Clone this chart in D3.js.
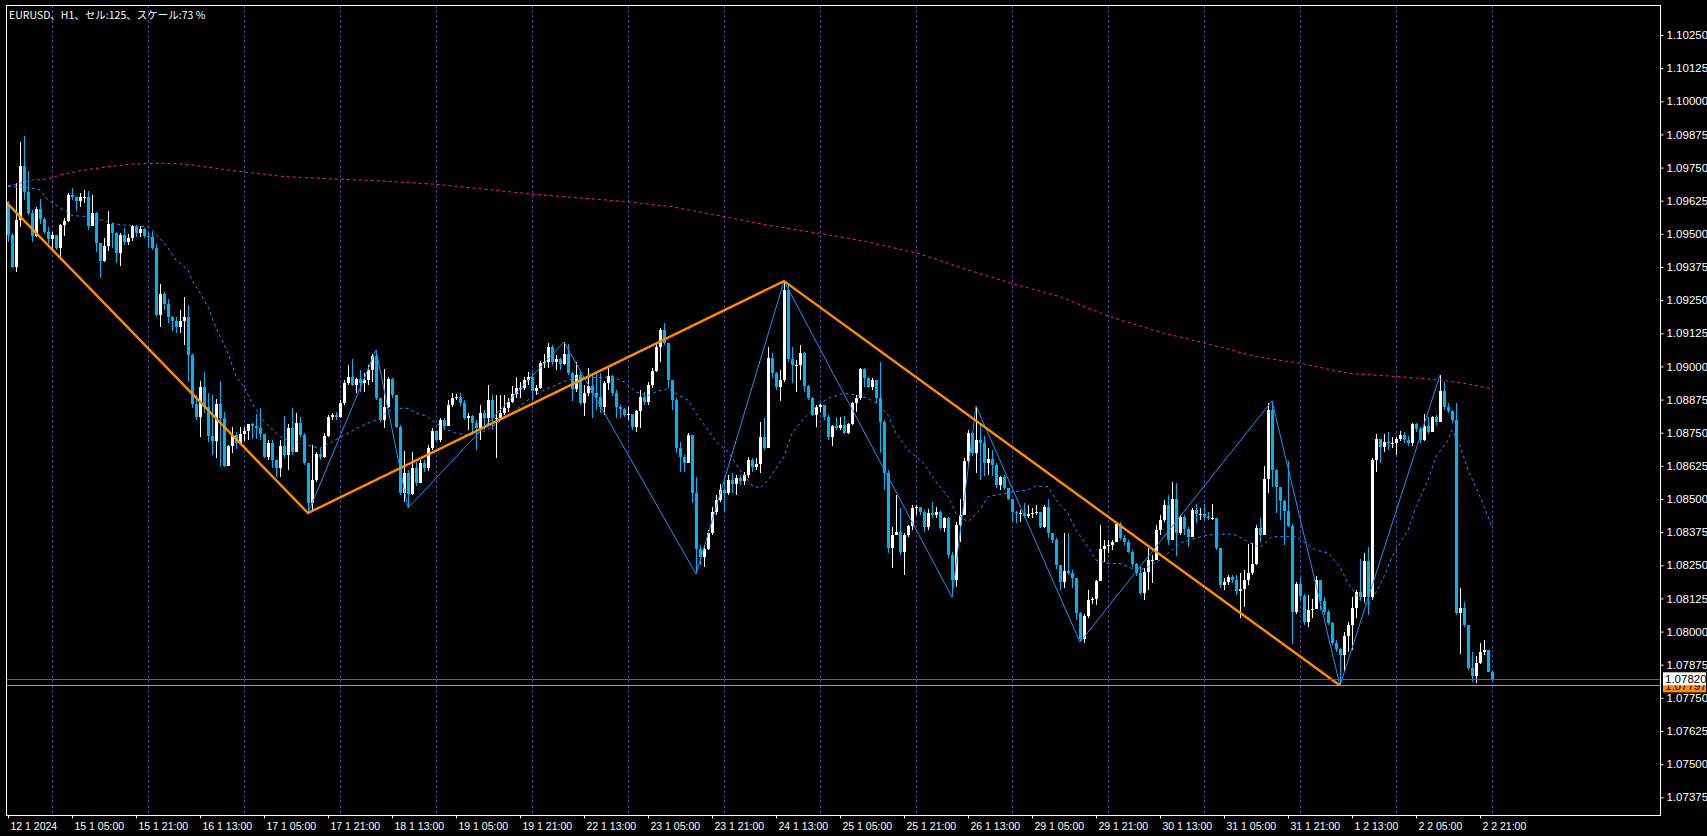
<!DOCTYPE html>
<html lang="ja">
  <head>
    <meta charset="UTF-8" />
    <title>EURUSD H1</title>
    <script src="https://d3js.org/d3.v7.min.js"></script>
    <style>
      html, body { margin: 0; padding: 0; background: #000; overflow: hidden; }
      svg { display: block; }
    </style>
  </head>
  <body>
    <svg id="chart" width="1707" height="836"></svg>

    <script>
    // ---- data (EURUSD H1, 12 Jan - 2 Feb 2024) ----
    const firstOpen = 1.09609;

    const barClose = [
      1.09495, 1.09375, 1.09552, 1.09755, 1.09657, 1.09579, 1.09491, 1.09594, 1.09556, 1.09506,
      1.09480, 1.09495, 1.09447, 1.09533, 1.09548, 1.09646, 1.09639, 1.09624, 1.09639, 1.09639,
      1.09529, 1.09579, 1.09466, 1.09397, 1.09454, 1.09537, 1.09503, 1.09428, 1.09495, 1.09469,
      1.09484, 1.09529, 1.09503, 1.09518, 1.09491, 1.09488, 1.09447, 1.09194, 1.09273, 1.09235,
      1.09187, 1.09171, 1.09149, 1.09171, 1.09187, 1.09043, 1.08858, 1.08809, 1.08923, 1.08847,
      1.08737, 1.08718, 1.08858, 1.08805, 1.08624, 1.08699, 1.08741, 1.08711, 1.08745, 1.08756,
      1.08783, 1.08775, 1.08768, 1.08745, 1.08658, 1.08711, 1.08647, 1.08617, 1.08699, 1.08666,
      1.08768, 1.08677, 1.08786, 1.08741, 1.08636, 1.08485, 1.08571, 1.08670, 1.08658, 1.08737,
      1.08809, 1.08816, 1.08809, 1.08862, 1.08937, 1.08960, 1.08930, 1.08952, 1.08937, 1.08949,
      1.08986, 1.09039, 1.08881, 1.08798, 1.08847, 1.08952, 1.08892, 1.08771, 1.08522, 1.08598,
      1.08519, 1.08617, 1.08560, 1.08636, 1.08617, 1.08692, 1.08756, 1.08722, 1.08798, 1.08775,
      1.08854, 1.08881, 1.08885, 1.08862, 1.08805, 1.08813, 1.08786, 1.08768, 1.08824, 1.08805,
      1.08873, 1.08805, 1.08805, 1.08824, 1.08843, 1.08866, 1.08896, 1.08919, 1.08919, 1.08949,
      1.08960, 1.08907, 1.08919, 1.09013, 1.09017, 1.09073, 1.09017, 1.09028, 1.09009, 1.09047,
      1.08975, 1.08915, 1.08967, 1.08862, 1.08900, 1.08926, 1.08900, 1.08885, 1.08847, 1.08937,
      1.08964, 1.08900, 1.08847, 1.08839, 1.08816, 1.08820, 1.08771, 1.08832, 1.08885, 1.08866,
      1.08930, 1.08982, 1.09073, 1.09137, 1.09088, 1.08949, 1.08873, 1.08692, 1.08658, 1.08636,
      1.08741, 1.08522, 1.08311, 1.08281, 1.08311, 1.08372, 1.08451, 1.08496, 1.08534, 1.08522,
      1.08571, 1.08556, 1.08579, 1.08568, 1.08590, 1.08647, 1.08621, 1.08632, 1.08734, 1.08692,
      1.09032, 1.08975, 1.08923, 1.08949, 1.09288, 1.09028, 1.09005, 1.09005, 1.09051, 1.08926,
      1.08881, 1.08816, 1.08847, 1.08854, 1.08809, 1.08734, 1.08775, 1.08768, 1.08779, 1.08749,
      1.08783, 1.08862, 1.08881, 1.08990, 1.08956, 1.08923, 1.08949, 1.08881, 1.08790, 1.08598,
      1.08315, 1.08364, 1.08375, 1.08300, 1.08364, 1.08398, 1.08466, 1.08470, 1.08451, 1.08394,
      1.08447, 1.08439, 1.08451, 1.08390, 1.08428, 1.08289, 1.08194, 1.08402, 1.08439, 1.08643,
      1.08749, 1.08674, 1.08722, 1.08711, 1.08636, 1.08651, 1.08628, 1.08553, 1.08583, 1.08541,
      1.08500, 1.08451, 1.08447, 1.08447, 1.08436, 1.08443, 1.08447, 1.08451, 1.08394, 1.08470,
      1.08372, 1.08345, 1.08251, 1.08187, 1.08228, 1.08221, 1.08202, 1.08070, 1.07972, 1.08058,
      1.08119, 1.08123, 1.08191, 1.08311, 1.08322, 1.08326, 1.08338, 1.08405, 1.08353, 1.08338,
      1.08300, 1.08255, 1.08221, 1.08145, 1.08225, 1.08270, 1.08270, 1.08383, 1.08421, 1.08477,
      1.08345, 1.08500, 1.08372, 1.08432, 1.08387, 1.08357, 1.08458, 1.08443, 1.08443, 1.08432,
      1.08428, 1.08428, 1.08315, 1.08176, 1.08187, 1.08206, 1.08194, 1.08153, 1.08160, 1.08194,
      1.08221, 1.08255, 1.08390, 1.08364, 1.08575, 1.08835, 1.08609, 1.08545, 1.08492, 1.08454,
      1.08398, 1.08073, 1.08179, 1.08134, 1.08036, 1.08081, 1.08085, 1.08194, 1.08115, 1.08073,
      1.08032, 1.07957, 1.07934, 1.07911, 1.07983, 1.08025, 1.08089, 1.08149, 1.08130, 1.08266,
      1.08130, 1.08647, 1.08726, 1.08696, 1.08714, 1.08711, 1.08711, 1.08726, 1.08741, 1.08722,
      1.08711, 1.08783, 1.08764, 1.08722, 1.08775, 1.08752, 1.08809, 1.08790, 1.08907, 1.08847,
      1.08832, 1.08798, 1.08070, 1.08089, 1.08025, 1.07862, 1.07832, 1.07881, 1.07922, 1.07930,
      1.07847, 1.07820
    ];

    const barHigh = [
      1.09624, 1.09503, 1.09692, 1.09846, 1.09869, 1.09737, 1.09590, 1.09602, 1.09631, 1.09564,
      1.09526, 1.09506, 1.09495, 1.09537, 1.09560, 1.09654, 1.09673, 1.09642, 1.09654, 1.09665,
      1.09661, 1.09646, 1.09582, 1.09466, 1.09484, 1.09586, 1.09541, 1.09506, 1.09503, 1.09522,
      1.09499, 1.09533, 1.09533, 1.09529, 1.09522, 1.09506, 1.09506, 1.09462, 1.09311, 1.09281,
      1.09254, 1.09190, 1.09187, 1.09213, 1.09261, 1.09231, 1.09047, 1.08892, 1.08945, 1.08978,
      1.08900, 1.08892, 1.08877, 1.08945, 1.08828, 1.08703, 1.08771, 1.08752, 1.08771, 1.08771,
      1.08783, 1.08786, 1.08820, 1.08843, 1.08745, 1.08722, 1.08722, 1.08651, 1.08722, 1.08813,
      1.08783, 1.08843, 1.08824, 1.08809, 1.08749, 1.08636, 1.08703, 1.08677, 1.08692, 1.08749,
      1.08816, 1.08824, 1.08828, 1.08873, 1.08949, 1.09005, 1.09028, 1.08956, 1.08986, 1.08975,
      1.09005, 1.09047, 1.09062, 1.08881, 1.08990, 1.08960, 1.08956, 1.08892, 1.08779, 1.08681,
      1.08609, 1.08677, 1.08640, 1.08647, 1.08647, 1.08703, 1.08768, 1.08760, 1.08805, 1.08805,
      1.08873, 1.08900, 1.08896, 1.08900, 1.08873, 1.08824, 1.08816, 1.08798, 1.08854, 1.08835,
      1.08930, 1.08892, 1.08892, 1.08892, 1.08892, 1.08881, 1.08926, 1.08960, 1.08941, 1.08960,
      1.08978, 1.08975, 1.08930, 1.09020, 1.09047, 1.09088, 1.09081, 1.09043, 1.09032, 1.09092,
      1.09085, 1.08978, 1.09017, 1.08978, 1.08930, 1.08994, 1.08975, 1.08978, 1.08975, 1.08945,
      1.08994, 1.08967, 1.08911, 1.08854, 1.08843, 1.08847, 1.08816, 1.08835, 1.08911, 1.08903,
      1.08941, 1.08994, 1.09085, 1.09145, 1.09164, 1.09088, 1.08930, 1.08881, 1.08714, 1.08666,
      1.08749, 1.08737, 1.08583, 1.08326, 1.08326, 1.08383, 1.08470, 1.08515, 1.08556, 1.08579,
      1.08590, 1.08598, 1.08590, 1.08590, 1.08602, 1.08658, 1.08655, 1.08655, 1.08790, 1.08805,
      1.09073, 1.09051, 1.08978, 1.08986, 1.09322, 1.09307, 1.09073, 1.09024, 1.09081, 1.09054,
      1.08930, 1.08885, 1.08854, 1.08862, 1.08854, 1.08816, 1.08779, 1.08809, 1.08809, 1.08813,
      1.08786, 1.08866, 1.08892, 1.08994, 1.08994, 1.08960, 1.08956, 1.08949, 1.09017, 1.08798,
      1.08609, 1.08394, 1.08515, 1.08466, 1.08372, 1.08402, 1.08477, 1.08477, 1.08470, 1.08458,
      1.08462, 1.08488, 1.08470, 1.08458, 1.08432, 1.08432, 1.08300, 1.08413, 1.08500, 1.08655,
      1.08760, 1.08752, 1.08851, 1.08779, 1.08737, 1.08692, 1.08685, 1.08636, 1.08587, 1.08590,
      1.08541, 1.08500, 1.08454, 1.08458, 1.08485, 1.08477, 1.08466, 1.08477, 1.08451, 1.08477,
      1.08500, 1.08372, 1.08353, 1.08251, 1.08372, 1.08372, 1.08232, 1.08202, 1.08073, 1.08066,
      1.08157, 1.08130, 1.08194, 1.08402, 1.08345, 1.08345, 1.08345, 1.08413, 1.08413, 1.08364,
      1.08345, 1.08307, 1.08258, 1.08243, 1.08240, 1.08315, 1.08289, 1.08402, 1.08439, 1.08496,
      1.08515, 1.08564, 1.08560, 1.08439, 1.08439, 1.08394, 1.08466, 1.08481, 1.08466, 1.08481,
      1.08451, 1.08481, 1.08428, 1.08315, 1.08202, 1.08213, 1.08213, 1.08213, 1.08221, 1.08232,
      1.08330, 1.08334, 1.08402, 1.08428, 1.08624, 1.08862, 1.08870, 1.08613, 1.08545, 1.08496,
      1.08643, 1.08405, 1.08187, 1.08202, 1.08142, 1.08138, 1.08123, 1.08209, 1.08191, 1.08130,
      1.08081, 1.08036, 1.07968, 1.07938, 1.07998, 1.08036, 1.08130, 1.08157, 1.08273, 1.08296,
      1.08319, 1.08655, 1.08745, 1.08726, 1.08745, 1.08752, 1.08734, 1.08734, 1.08756, 1.08752,
      1.08737, 1.08786, 1.08786, 1.08771, 1.08820, 1.08809, 1.08813, 1.08816, 1.08968, 1.08941,
      1.08862, 1.08835, 1.08862, 1.08164, 1.08111, 1.08025, 1.07922, 1.07908, 1.07957, 1.07968,
      1.07930, 1.07855
    ];

    const barLow = [
      1.09469, 1.09371, 1.09356, 1.09526, 1.09628, 1.09571, 1.09469, 1.09488, 1.09537, 1.09499,
      1.09462, 1.09439, 1.09439, 1.09401, 1.09491, 1.09544, 1.09628, 1.09586, 1.09602, 1.09617,
      1.09514, 1.09529, 1.09431, 1.09334, 1.09393, 1.09435, 1.09447, 1.09390, 1.09378, 1.09458,
      1.09458, 1.09473, 1.09488, 1.09488, 1.09484, 1.09451, 1.09439, 1.09187, 1.09149, 1.09213,
      1.09164, 1.09133, 1.09126, 1.09126, 1.09081, 1.08945, 1.08843, 1.08798, 1.08734, 1.08824,
      1.08714, 1.08666, 1.08655, 1.08621, 1.08621, 1.08624, 1.08674, 1.08688, 1.08703, 1.08718,
      1.08722, 1.08726, 1.08726, 1.08722, 1.08655, 1.08647, 1.08617, 1.08583, 1.08583, 1.08655,
      1.08609, 1.08666, 1.08677, 1.08734, 1.08628, 1.08447, 1.08451, 1.08564, 1.08647, 1.08655,
      1.08734, 1.08798, 1.08798, 1.08805, 1.08854, 1.08930, 1.08926, 1.08900, 1.08903, 1.08903,
      1.08930, 1.08941, 1.08873, 1.08790, 1.08768, 1.08843, 1.08881, 1.08768, 1.08515, 1.08488,
      1.08466, 1.08515, 1.08549, 1.08575, 1.08602, 1.08605, 1.08685, 1.08714, 1.08714, 1.08760,
      1.08779, 1.08847, 1.08873, 1.08851, 1.08798, 1.08760, 1.08752, 1.08685, 1.08722, 1.08760,
      1.08779, 1.08760, 1.08655, 1.08798, 1.08816, 1.08828, 1.08862, 1.08881, 1.08881, 1.08911,
      1.08930, 1.08873, 1.08892, 1.08915, 1.08994, 1.08994, 1.09005, 1.08986, 1.08986, 1.09005,
      1.08967, 1.08870, 1.08903, 1.08854, 1.08813, 1.08888, 1.08805, 1.08835, 1.08824, 1.08816,
      1.08911, 1.08888, 1.08805, 1.08805, 1.08809, 1.08798, 1.08760, 1.08752, 1.08768, 1.08854,
      1.08854, 1.08919, 1.08978, 1.09017, 1.09081, 1.08919, 1.08835, 1.08674, 1.08602, 1.08602,
      1.08636, 1.08485, 1.08217, 1.08251, 1.08243, 1.08307, 1.08364, 1.08439, 1.08488, 1.08451,
      1.08515, 1.08522, 1.08515, 1.08553, 1.08553, 1.08579, 1.08602, 1.08609, 1.08598, 1.08685,
      1.08692, 1.08956, 1.08911, 1.08870, 1.08941, 1.09017, 1.08937, 1.08903, 1.08949, 1.08903,
      1.08873, 1.08813, 1.08771, 1.08828, 1.08798, 1.08722, 1.08699, 1.08760, 1.08760, 1.08745,
      1.08745, 1.08779, 1.08828, 1.08873, 1.08923, 1.08919, 1.08911, 1.08862, 1.08674, 1.08534,
      1.08296, 1.08240, 1.08364, 1.08289, 1.08213, 1.08357, 1.08383, 1.08439, 1.08439, 1.08375,
      1.08383, 1.08428, 1.08428, 1.08383, 1.08375, 1.08277, 1.08130, 1.08168, 1.08338, 1.08439,
      1.08628, 1.08662, 1.08598, 1.08571, 1.08587, 1.08590, 1.08587, 1.08541, 1.08534, 1.08534,
      1.08496, 1.08413, 1.08409, 1.08413, 1.08428, 1.08428, 1.08428, 1.08439, 1.08390, 1.08390,
      1.08353, 1.08334, 1.08236, 1.08157, 1.08164, 1.08213, 1.08164, 1.08043, 1.07960, 1.07957,
      1.08051, 1.08104, 1.08100, 1.08191, 1.08262, 1.08296, 1.08307, 1.08338, 1.08345, 1.08326,
      1.08296, 1.08243, 1.08209, 1.08138, 1.08119, 1.08157, 1.08183, 1.08270, 1.08364, 1.08413,
      1.08326, 1.08345, 1.08285, 1.08364, 1.08364, 1.08319, 1.08357, 1.08409, 1.08421, 1.08421,
      1.08421, 1.08421, 1.08307, 1.08164, 1.08157, 1.08176, 1.08183, 1.08138, 1.08051, 1.08093,
      1.08176, 1.08213, 1.08251, 1.08338, 1.08364, 1.08522, 1.08545, 1.08447, 1.08421, 1.08326,
      1.08394, 1.07953, 1.08066, 1.08119, 1.08025, 1.08017, 1.08051, 1.08085, 1.08081, 1.08062,
      1.08025, 1.07949, 1.07922, 1.07797, 1.07847, 1.07922, 1.07930, 1.08051, 1.08119, 1.08111,
      1.08062, 1.08119, 1.08602, 1.08636, 1.08677, 1.08685, 1.08692, 1.08666, 1.08718, 1.08711,
      1.08699, 1.08699, 1.08752, 1.08711, 1.08718, 1.08745, 1.08752, 1.08779, 1.08790, 1.08835,
      1.08824, 1.08786, 1.08062, 1.07915, 1.08017, 1.07855, 1.07809, 1.07805, 1.07877, 1.07911,
      1.07847, 1.07813
    ];

    // moving averages read at sample bars
    const maFastBars = [0, 6, 8, 10, 13, 16, 20, 24, 27, 31, 35, 36, 38, 40, 42, 45, 46, 48, 50, 52,
      55, 57, 59, 61, 64, 68, 70, 75, 78, 81, 85, 88, 92, 95, 97, 100, 102, 105, 107, 110,
      112, 115, 119, 121, 124, 126, 128, 131, 134, 137, 140, 143, 148, 151, 154, 157, 160, 162, 165, 167,
      170, 172, 175, 177, 180, 183, 186, 188, 190, 194, 196, 199, 202, 205, 209, 212, 215, 217, 220, 222,
      225, 229, 232, 235, 237, 240, 243, 245, 249, 251, 255, 257, 260, 262, 265, 267, 270, 272, 275, 278,
      281, 283, 285, 288, 290, 293, 295, 300, 305, 307, 310, 313, 316, 322, 327, 330, 333, 335, 338, 340,
      341, 344, 346, 350, 352, 355, 357, 360, 361, 363, 365, 368, 371];
    const maFastValues = [1.09680, 1.09673, 1.09665, 1.09628, 1.09598, 1.09569, 1.09565, 1.09550, 1.09537, 1.09529,
      1.09526, 1.09514, 1.09484, 1.09447, 1.09401, 1.09364, 1.09326, 1.09277, 1.09225, 1.09145,
      1.09051, 1.08962, 1.08924, 1.08862, 1.08792, 1.08735, 1.08722, 1.08703, 1.08691, 1.08716,
      1.08748, 1.08773, 1.08798, 1.08829, 1.08842, 1.08842, 1.08825, 1.08810, 1.08785, 1.08760,
      1.08748, 1.08741, 1.08754, 1.08773, 1.08804, 1.08823, 1.08848, 1.08886, 1.08911, 1.08930,
      1.08949, 1.08959, 1.08959, 1.08961, 1.08942, 1.08904, 1.08889, 1.08904, 1.08917, 1.08898,
      1.08873, 1.08823, 1.08760, 1.08716, 1.08678, 1.08609, 1.08552, 1.08540, 1.08571, 1.08660,
      1.08748, 1.08804, 1.08848, 1.08880, 1.08899, 1.08892, 1.08880, 1.08861, 1.08817, 1.08748,
      1.08685, 1.08634, 1.08565, 1.08509, 1.08446, 1.08414, 1.08458, 1.08509, 1.08521, 1.08527,
      1.08534, 1.08549, 1.08546, 1.08496, 1.08446, 1.08383, 1.08320, 1.08270, 1.08257, 1.08257,
      1.08238, 1.08232, 1.08244, 1.08270, 1.08295, 1.08333, 1.08345, 1.08364, 1.08368, 1.08364,
      1.08339, 1.08317, 1.08358, 1.08358, 1.08307, 1.08297, 1.08244, 1.08182, 1.08119, 1.08100,
      1.08119, 1.08207, 1.08282, 1.08383, 1.08471, 1.08571, 1.08660, 1.08722, 1.08760, 1.08703,
      1.08609, 1.08509, 1.08395];

    const maSlowBars = [0, 3, 6, 10, 13, 16, 20, 25, 30, 35, 41, 46, 50, 55, 60, 69, 83, 93, 107, 131,
      155, 166, 179, 191, 204, 215, 228, 240, 251, 263, 275, 289, 299, 312, 323, 335, 348, 358, 365, 371];
    const maSlowValues = [1.09680, 1.09691, 1.09703, 1.09706, 1.09722, 1.09732, 1.09743, 1.09753, 1.09762, 1.09766,
      1.09766, 1.09760, 1.09751, 1.09741, 1.09732, 1.09716, 1.09706, 1.09700, 1.09687, 1.09650,
      1.09621, 1.09602, 1.09565, 1.09530, 1.09499, 1.09470, 1.09424, 1.09364, 1.09313, 1.09263,
      1.09190, 1.09125, 1.09089, 1.09037, 1.09012, 1.08974, 1.08961, 1.08949, 1.08934, 1.08915];

    // zigzag turning points
    const zigMajorBars = [-1, 75, 194, 333];
    const zigMajorPrices = [1.09628, 1.08447, 1.09322, 1.07797];
    const zigMinorBars = [75, 92, 100, 139, 172, 194, 236, 242, 268, 316, 333, 358];
    const zigMinorPrices = [1.08447, 1.09062, 1.08466, 1.09092, 1.08217, 1.09322, 1.08130, 1.08851, 1.07960, 1.08870, 1.07797, 1.08968];

    const bidPrice = 1.07820;
    const levelPrice = 1.07797;

    const priceTicks = [1.07375, 1.07500, 1.07625, 1.07750, 1.07875, 1.08000, 1.08125, 1.08250,
      1.08375, 1.08500, 1.08625, 1.08750, 1.08875, 1.09000, 1.09125, 1.09250, 1.09375, 1.09500,
      1.09625, 1.09750, 1.09875, 1.10000, 1.10125, 1.10250];

    const timeLabels = ["12 1 2024", "15 1 05:00", "15 1 21:00", "16 1 13:00", "17 1 05:00", "17 1 21:00",
      "18 1 13:00", "19 1 05:00", "19 1 21:00", "22 1 13:00", "23 1 05:00", "23 1 21:00", "24 1 13:00",
      "25 1 05:00", "25 1 21:00", "26 1 13:00", "29 1 05:00", "29 1 21:00", "30 1 13:00", "31 1 05:00",
      "31 1 21:00", "1 2 13:00", "2 2 05:00", "2 2 21:00"];

    const titleText = "EURUSD、H1、セル:125、スケール:73 %";

    // ---- layout ----
    const plot = { left: 6, top: 5, right: 1660, bottom: 815 };
    const svg = d3.select("#chart");

    const x = d3.scaleLinear().domain([0, 371]).range([8, 1492]);
    const y = d3.scaleLinear().domain([1.07375, 1.10250]).range([797.3, 35]);

    svg.append("rect").attr("width", 1707).attr("height", 836).attr("fill", "#000");

    svg.append("defs").append("clipPath").attr("id", "plotClip")
      .append("rect")
      .attr("x", plot.left).attr("y", plot.top)
      .attr("width", plot.right - plot.left).attr("height", plot.bottom - plot.top);

    const g = svg.append("g").attr("clip-path", "url(#plotClip)");

    // day separators
    const daySeps = d3.range(11, 372, 24);
    g.append("g").selectAll("line")
      .data(daySeps)
      .join("line")
      .attr("x1", d => x(d) + 0.5).attr("x2", d => x(d) + 0.5)
      .attr("y1", plot.top).attr("y2", plot.bottom)
      .attr("stroke", "#46409a")
      .attr("stroke-dasharray", "3,2")
      .attr("shape-rendering", "crispEdges");

    // candles
    const bars = barClose.map((c, i) => ({
      i: i,
      open: i === 0 ? firstOpen : barClose[i - 1],
      close: c,
      high: barHigh[i],
      low: barLow[i]
    }));

    const candle = g.append("g").attr("shape-rendering", "crispEdges")
      .selectAll("g")
      .data(bars)
      .join("g");

    const colorOf = d => (d.close >= d.open ? "#ffffff" : "#00b4f4");

    candle.append("rect")
      .attr("x", d => x(d.i))
      .attr("width", 1)
      .attr("y", d => Math.round(y(Math.max(d.high, d.open, d.close))))
      .attr("height", d => Math.max(1, Math.round(y(Math.min(d.low, d.open, d.close)) - y(Math.max(d.high, d.open, d.close)))))
      .attr("fill", colorOf);

    candle.append("rect")
      .attr("x", d => x(d.i) - 1)
      .attr("width", 3)
      .attr("y", d => Math.round(y(Math.max(d.open, d.close))))
      .attr("height", d => Math.max(1, Math.round(Math.abs(y(d.open) - y(d.close)))))
      .attr("fill", colorOf);

    // moving averages
    const maLine = d3.line().x(d => x(d[0])).y(d => y(d[1]));

    g.append("path")
      .datum(maSlowBars.map((b, k) => [b, maSlowValues[k]]))
      .attr("d", maLine)
      .attr("fill", "none")
      .attr("stroke", "#ff1a8c")
      .attr("stroke-width", 1)
      .attr("stroke-dasharray", "3,3");

    g.append("path")
      .datum(maFastBars.map((b, k) => [b, maFastValues[k]]))
      .attr("d", maLine)
      .attr("fill", "none")
      .attr("stroke", "#1e90ff")
      .attr("stroke-width", 1)
      .attr("stroke-dasharray", "3,3");

    // zigzags
    g.append("path")
      .datum(zigMinorBars.map((b, k) => [b, zigMinorPrices[k]]))
      .attr("d", maLine)
      .attr("fill", "none")
      .attr("stroke", "#1e90ff")
      .attr("stroke-width", 1);

    g.append("path")
      .datum(zigMajorBars.map((b, k) => [b, zigMajorPrices[k]]))
      .attr("d", maLine)
      .attr("fill", "none")
      .attr("stroke", "#ff8c00")
      .attr("stroke-width", 2.4);

    // horizontal price lines
    g.append("line")
      .attr("x1", plot.left).attr("x2", plot.right)
      .attr("y1", Math.round(y(bidPrice)) + 0.5).attr("y2", Math.round(y(bidPrice)) + 0.5)
      .attr("stroke", "#5a58a8");

    g.append("line")
      .attr("x1", plot.left).attr("x2", plot.right)
      .attr("y1", Math.round(y(levelPrice)) + 0.5).attr("y2", Math.round(y(levelPrice)) + 0.5)
      .attr("stroke", "#ff8c00");

    // frame
    svg.append("rect")
      .attr("x", plot.left + 0.5).attr("y", plot.top + 0.5)
      .attr("width", plot.right - plot.left).attr("height", plot.bottom - plot.top)
      .attr("fill", "none")
      .attr("stroke", "#ffffff")
      .attr("shape-rendering", "crispEdges");

    // price axis
    const yAxis = svg.append("g")
      .attr("transform", `translate(${plot.right + 0.5},0)`)
      .call(d3.axisRight(y).tickValues(priceTicks).tickSize(3).tickPadding(3).tickFormat(d3.format(".5f")));
    yAxis.select(".domain").remove();
    yAxis.selectAll("line").attr("stroke", "#ffffff");
    yAxis.selectAll("text")
      .attr("fill", "#ffffff")
      .style("font-family", "'Liberation Sans', Arial, sans-serif")
      .style("font-size", "11.5px");

    // time axis
    const xAxis = svg.append("g")
      .attr("transform", `translate(0,${plot.bottom + 0.5})`)
      .call(d3.axisBottom(x).tickValues(d3.range(0, 369, 16)).tickSize(3).tickPadding(4)
        .tickFormat((d, k) => timeLabels[k]));
    xAxis.select(".domain").remove();
    xAxis.selectAll("line").attr("stroke", "#ffffff");
    xAxis.selectAll("text")
      .attr("text-anchor", "start")
      .attr("dx", "2")
      .attr("fill", "#ffffff")
      .style("font-family", "'Liberation Sans', Arial, sans-serif")
      .style("font-size", "10.5px");

    // price tags on the right
    const tagX = plot.right + 3;
    const levelY = y(levelPrice);
    svg.append("rect")
      .attr("x", tagX).attr("y", levelY - 6).attr("width", 43).attr("height", 13)
      .attr("fill", "#ff8c00");
    svg.append("text")
      .attr("x", tagX + 2).attr("y", levelY + 4.5)
      .attr("fill", "#000")
      .style("font-family", "'Liberation Sans', Arial, sans-serif")
      .style("font-size", "11.5px")
      .text(d3.format(".5f")(levelPrice));

    const bidY = y(bidPrice);
    svg.append("rect")
      .attr("x", tagX).attr("y", bidY - 7).attr("width", 43).attr("height", 13)
      .attr("fill", "#ffffff");
    svg.append("text")
      .attr("x", tagX + 2).attr("y", bidY + 4)
      .attr("fill", "#000")
      .style("font-family", "'Liberation Sans', Arial, sans-serif")
      .style("font-size", "11.5px")
      .text(d3.format(".5f")(bidPrice));

    // title
    svg.append("text")
      .attr("x", 9).attr("y", 19)
      .attr("fill", "#ffffff")
      .style("font-family", "'Noto Sans CJK JP', 'Noto Sans', sans-serif")
      .style("font-size", "10.5px")
      .text(titleText);
    </script>
  </body>
</html>
